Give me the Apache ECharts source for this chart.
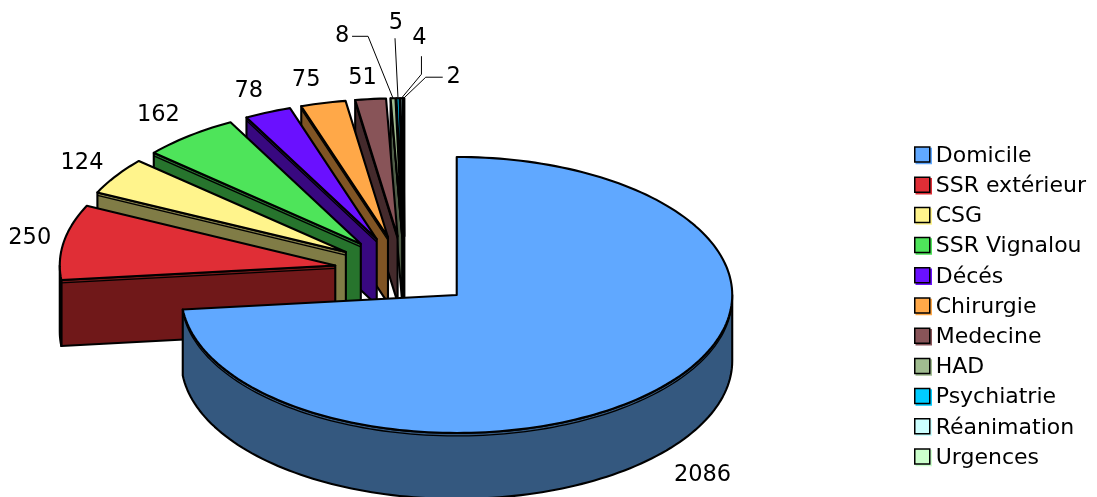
<!DOCTYPE html>
<html><head><meta charset="utf-8">
<style>html,body{margin:0;padding:0;background:#fff}#c{width:1097px;height:497px}</style>
<script src="https://cdn.jsdelivr.net/npm/echarts@6/dist/echarts.min.js"></script>
</head><body><div id="c"></div>
<script>
const categories = ['Domicile','SSR extérieur','CSG','SSR Vignalou','Décés','Chirurgie','Medecine','HAD','Psychiatrie','Réanimation','Urgences'];
const values = [2086,250,124,162,78,75,51,8,5,4,2];
const topColors = ['#60A8FF','#E02E36','#FFF48C','#4EE45A','#6A10FF','#FFA848','#885458','#A0BC90','#00CCFF','#CCFFFF','#CCFFCC'];
const wallColors = ['#34587F','#701819','#807C46','#27742D','#380880','#805424','#442A2C','#505E48','#006680','#668080','#668066'];
// label placement relative to each slice's rim midpoint (and optional leader bends)
const labelOffsets = [[41,88],[-34,-4],[-34,-13],[-31,-21],[-19,-21],[-17,-23],[-8,-21],[-51,-62],[-2,-75],[18,-60],[50,-21]];
const leaders = {7:[[0,0],[-25,-62],[-41,-62]],8:[[0,0],[-3,-60]],9:[[0,0],[20,-24],[20,-42]],10:[[0,0],[22,-21],[39,-21]]};

const CX=404.5, CY=271.4, RX=275.5, RY=138, DEPTH=66, EXPLODE=0.255;
const total = values.reduce((a,b)=>a+b,0);
const rad = d=>d*Math.PI/180;
const pt=(c,d,dy)=>[c[0]+RX*Math.sin(rad(d)), c[1]-RY*Math.cos(rad(d))+(dy||0)];

function arc(c,a,b,dy){const n=Math.max(2,Math.ceil(Math.abs(b-a)/1.5));const o=[];for(let i=0;i<=n;i++)o.push(pt(c,a+(b-a)*i/n,dy));return o;}

function renderSlice(i){
  return function(params,api){
    const v=api.value(0);
    let before=0; for(let k=0;k<i;k++) before+=values[k];
    const a=before/total*360, b=a+v/total*360, m=(a+b)/2;
    const c=[CX+EXPLODE*RX*Math.sin(rad(m)), CY-EXPLODE*RY*Math.cos(rad(m))];
    const kids=[];
    const stroke={stroke:'#000',lineWidth:2.1,lineJoin:'round'};
    const wall=wallColors[i];
    const poly=(pts,fill)=>kids.push({type:'polygon',shape:{points:pts},style:Object.assign({fill},stroke)});
    const inner=pts=>kids.push({type:'polyline',shape:{points:pts},style:{stroke:'#000',lineWidth:1.3,fill:null}});
    // flat side on the start edge, when it faces the viewer
    if(a>180 && a<360){
      const r=pt(c,a);
      poly([c,r,[r[0],r[1]+DEPTH],[c[0],c[1]+DEPTH]],wall);
      inner([[c[0],c[1]+3],[r[0],r[1]+3]]);
    }
    // curved outer wall, front half only
    const s=Math.max(a,90), e=Math.min(b,270);
    if(e>s){
      const up=arc(c,s,e,0), dn=arc(c,e,s,DEPTH);
      poly(up.concat(dn),wall);
      inner(arc(c,s+4,e,3));
    }
    // top
    poly([c].concat(arc(c,a,b,0)),topColors[i]);
    // value label
    const rim=pt(c,m);
    const lo=labelOffsets[i];
    kids.push({type:'text',style:{x:rim[0]+lo[0],y:rim[1]+lo[1],text:String(v),fill:'#000',font:'22.5px "DejaVu Sans"',align:'center',verticalAlign:'middle'}});
    if(leaders[i]){
      kids.push({type:'polyline',shape:{points:leaders[i].map(p=>[rim[0]+p[0],rim[1]+p[1]])},style:{stroke:'#000',lineWidth:1,fill:null}});
    }
    return {type:'group',children:kids};
  };
}

const series=categories.map((name,i)=>({
  name,type:'custom',coordinateSystem:'none',
  data:[[values[i]]],
  itemStyle:{color:topColors[i]},
  renderItem:renderSlice(i),
  encode:{value:0},
  silent:true
}));
// painter's order: far slices first, main slice last
series.reverse();

const chart=echarts.init(document.getElementById('c'),null,{renderer:'canvas'});
chart.setOption({
  animation:false,
  backgroundColor:'#fff',
  legend:{
    orient:'vertical',left:909,top:140,
    itemWidth:15,itemHeight:15,itemGap:8.2,
    data:categories.map((name,i)=>({name,itemStyle:{shadowColor:topColors[i],shadowOffsetX:1.5,shadowOffsetY:1.5,shadowBlur:0}})),
    icon:'rect',
    itemStyle:{borderColor:'#000',borderWidth:1.5},
    formatter:'{t|{name}}',
    textStyle:{fontFamily:'DejaVu Sans',fontSize:22,color:'#000',rich:{t:{fontFamily:'DejaVu Sans',fontSize:22,color:'#000',padding:[3,0,0,1]}}}
  },
  series
});
</script></body></html>
